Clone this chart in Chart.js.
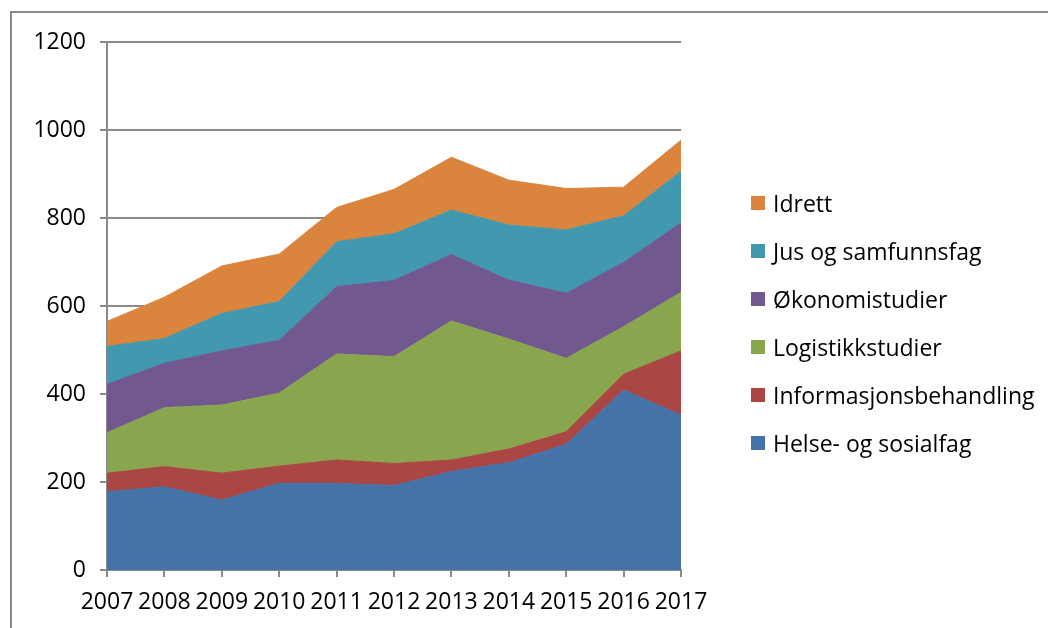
<!DOCTYPE html>
<html>
<head>
<meta charset="utf-8">
<script src="https://cdn.jsdelivr.net/npm/chart.js@4"></script>
<style>
  body { margin: 0; background: #fff; overflow: hidden; }
  #frame { position: absolute; left: 10px; top: 11px; width: 1200px; height: 800px; border: 2px solid #8a8a8a; }
  #wrap { position: absolute; left: 0; top: 0; width: 1048px; height: 628px; }
  #legend { position: absolute; left: 751px; top: 179px; font-family: "Open Sans", sans-serif; font-size: 23px; color: #000; }
  #legend div { height: 48px; display: flex; align-items: center; white-space: nowrap; }
  #legend span.box { display: inline-block; width: 14px; height: 14px; margin-right: 8px; }
</style>
</head>
<body>
<div id="frame"></div>
<div id="wrap"><canvas id="myChart" width="1048" height="628"></canvas></div>
<div id="legend"></div>
<script>
const years = ["2007", "2008", "2009", "2010", "2011", "2012", "2013", "2014", "2015", "2016", "2017"];

// bottom to top in the stack
const helse = [178, 189, 159, 197, 197, 192, 224, 244, 286, 409, 352];
const informasjon = [42, 46, 61, 39, 53, 50, 26, 31, 28, 36, 146];
const logistikk = [92, 134, 155, 166, 241, 243, 316, 250, 167, 108, 133];
const okonomi = [110, 101, 123, 120, 153, 173, 151, 134, 148, 146, 158];
const jus = [86, 56, 85, 88, 102, 106, 101, 125, 144, 106, 117];
const idrett = [57, 94, 108, 108, 78, 101, 120, 102, 94, 65, 71];

const seriesNames = ["Helse- og sosialfag", "Informasjonsbehandling", "Logistikkstudier", "Økonomistudier", "Jus og samfunnsfag", "Idrett"];
const seriesData = [helse, informasjon, logistikk, okonomi, jus, idrett];
const seriesColors = ["#4572A7", "#AA4643", "#89A54E", "#71588F", "#4198AF", "#DB843D"];

const yTicks = [0, 200, 400, 600, 800, 1000, 1200];

const font = { family: "'Open Sans', sans-serif", size: 23 };

const datasets = seriesData.map((d, i) => ({
  label: seriesNames[i],
  data: d,
  backgroundColor: seriesColors[i],
  borderColor: seriesColors[i],
  borderWidth: 1,
  pointRadius: 0,
  tension: 0,
  fill: i === 0 ? "origin" : "-1",
}));

const ctx = document.getElementById("myChart").getContext("2d");
new Chart(ctx, {
  type: "line",
  data: { labels: years, datasets: datasets },
  options: {
    responsive: false,
    animation: false,
    layout: { padding: { top: 42, right: 367, left: 0, bottom: 0 } },
    plugins: { legend: { display: false }, tooltip: { enabled: false } },
    scales: {
      x: {
        offset: false,
        grid: { display: true, drawOnChartArea: false, drawTicks: true, tickLength: 7, color: "#8a8a8a", lineWidth: 2 },
        border: { color: "#8a8a8a", width: 2 },
        ticks: { color: "#000", font: font, padding: 12, maxRotation: 0, autoSkip: false },
        afterFit: (s) => { s.height = 58; },
      },
      y: {
        stacked: true,
        min: 0,
        max: 1200,
        afterBuildTicks: (s) => { s.ticks = yTicks.map((v) => ({ value: v })); },
        grid: { color: "#8a8a8a", lineWidth: 2, tickLength: 7 },
        border: { color: "#8a8a8a", width: 2 },
        ticks: { color: "#000", font: font, padding: 14, callback: (v) => String(v) },
        afterFit: (s) => { s.width = 107; },
      },
    },
  },
});

// legend, top entry = top of stack
const legend = document.getElementById("legend");
for (let i = seriesNames.length - 1; i >= 0; i--) {
  const row = document.createElement("div");
  const box = document.createElement("span");
  box.className = "box";
  box.style.background = seriesColors[i];
  row.appendChild(box);
  row.appendChild(document.createTextNode(seriesNames[i]));
  legend.appendChild(row);
}
</script>
</body>
</html>
